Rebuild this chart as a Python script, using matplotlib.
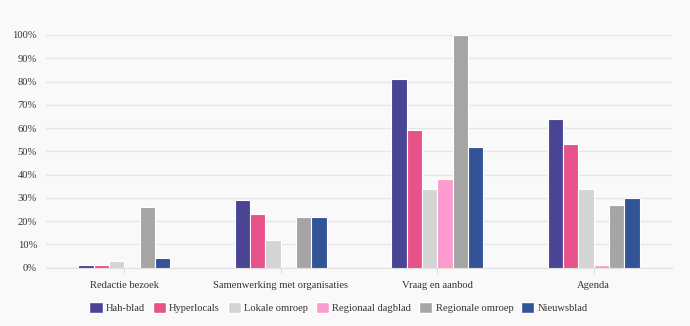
import matplotlib.pyplot as plt
import numpy as np
from matplotlib.patches import Patch

plt.rcParams['font.family'] = ['Liberation Serif', 'DejaVu Serif']

categories = ['Redactie bezoek', 'Samenwerking met organisaties', 'Vraag en aanbod', 'Agenda']
series = ['Hah-blad', 'Hyperlocals', 'Lokale omroep', 'Regionaal dagblad', 'Regionale omroep', 'Nieuwsblad']
hah_blad = [1, 29, 81, 64]
hyperlocals = [1, 23, 59, 53]
lokale_omroep = [3, 12, 34, 34]
regionaal_dagblad = [0, 0, 38, 1]
regionale_omroep = [26, 22, 100, 27]
nieuwsblad = [4, 22, 52, 30]
values = [hah_blad, hyperlocals, lokale_omroep, regionaal_dagblad, regionale_omroep, nieuwsblad]
colors = ['#4a4494', '#e8528a', '#d4d4d4', '#fd9ad0', '#a5a5a5', '#325496']

bg = '#f9f9f9'
fs = 7.6
fig = plt.figure(figsize=(6.9, 3.26), dpi=100, facecolor=bg)
ax = fig.add_axes([46 / 690, 58.3 / 326, 626 / 690, 232.7 / 326], facecolor=bg)

x = np.arange(len(categories))
slot = 0.0975
for i, (vals, col) in enumerate(zip(values, colors)):
    off = (i - 2.5) * slot
    ax.bar(x + off, [v / 100 for v in vals], width=slot, color=col,
           edgecolor='white', linewidth=0.8, zorder=3)

ax.set_xlim(-0.5, 3.5)
ax.set_ylim(0, 1)
ticks = np.arange(0, 1.01, 0.1)
ax.set_yticks(ticks)
ax.set_yticklabels([f'{int(round(t * 100))}%' for t in ticks])
ax.set_xticks(x)
ax.set_xticklabels(categories)
ax.grid(axis='y', color='#e6e6e6', linewidth=1, zorder=0)
for s in ['top', 'right', 'left']:
    ax.spines[s].set_visible(False)
ax.spines['bottom'].set_color('#e0e0e0')
ax.tick_params(axis='y', length=0, labelsize=fs, colors='#333333', pad=6.5)
ax.tick_params(axis='x', length=4, color='#e0e0e0', labelsize=fs, labelcolor='#333333', pad=5.5)

handles = [Patch(facecolor=c, edgecolor='white', label=s) for s, c in zip(series, colors)]
fig.legend(handles=handles, loc='center', bbox_to_anchor=(338.5 / 690, 18.5 / 326), ncol=6,
           frameon=False, fontsize=fs, handlelength=1.25, handleheight=1.25,
           handletextpad=0.3, columnspacing=0.75, labelcolor='#333333')

fig.savefig('out.png', dpi=100, facecolor=bg)
